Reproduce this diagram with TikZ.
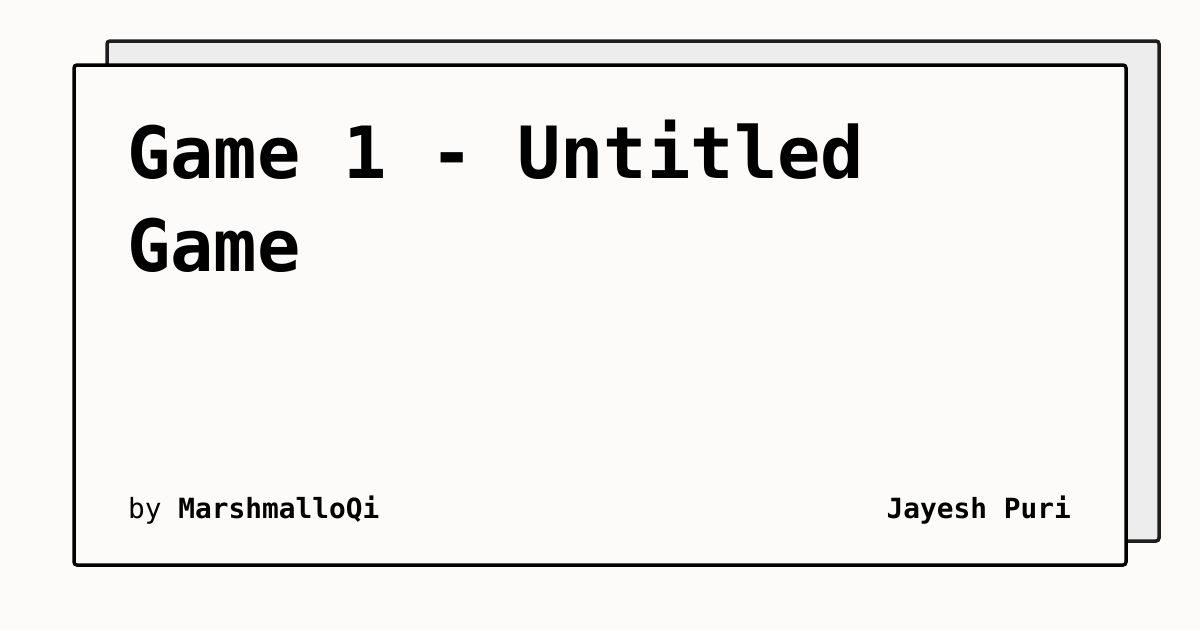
\documentclass[tikz,border=0pt]{standalone}
\usepackage{fontspec}
\setmonofont{DejaVu Sans Mono}
\definecolor{bgc}{HTML}{FCFBF9}
\definecolor{backfill}{HTML}{EDEDED}
\definecolor{backline}{HTML}{1E1E1E}
\tikzset{
  card/.style={line width=3.5pt, rounded corners=3pt},
  txt/.style={inner sep=0pt, font=\ttfamily},
}
\begin{document}
\begin{tikzpicture}[x=1pt,y=-1pt]
\fill[bgc] (0,0) rectangle (1200,630);
\useasboundingbox (0,0) rectangle (1200,630);
\draw[card, draw=backline, fill=backfill] (107,41) rectangle (1159,541);
\draw[card, draw=black, fill=bgc] (74,65) rectangle (1126,565);
\node[txt, anchor=base west, font=\ttfamily\bfseries\fontsize{72}{93}\selectfont] (t1) at (127,178) {Game 1 - Untitled};
\node[txt, anchor=base west, font=\ttfamily\bfseries\fontsize{72}{93}\selectfont] (t2) at (127,271) {Game};
\node[txt, anchor=base west, font=\ttfamily\fontsize{27.8}{30}\selectfont] (by) at (128,518) {by \textbf{MarshmalloQi}};
\node[txt, anchor=base east, font=\ttfamily\bfseries\fontsize{27.8}{30}\selectfont] (auth) at (1071,518) {Jayesh Puri};
\end{tikzpicture}
\end{document}
